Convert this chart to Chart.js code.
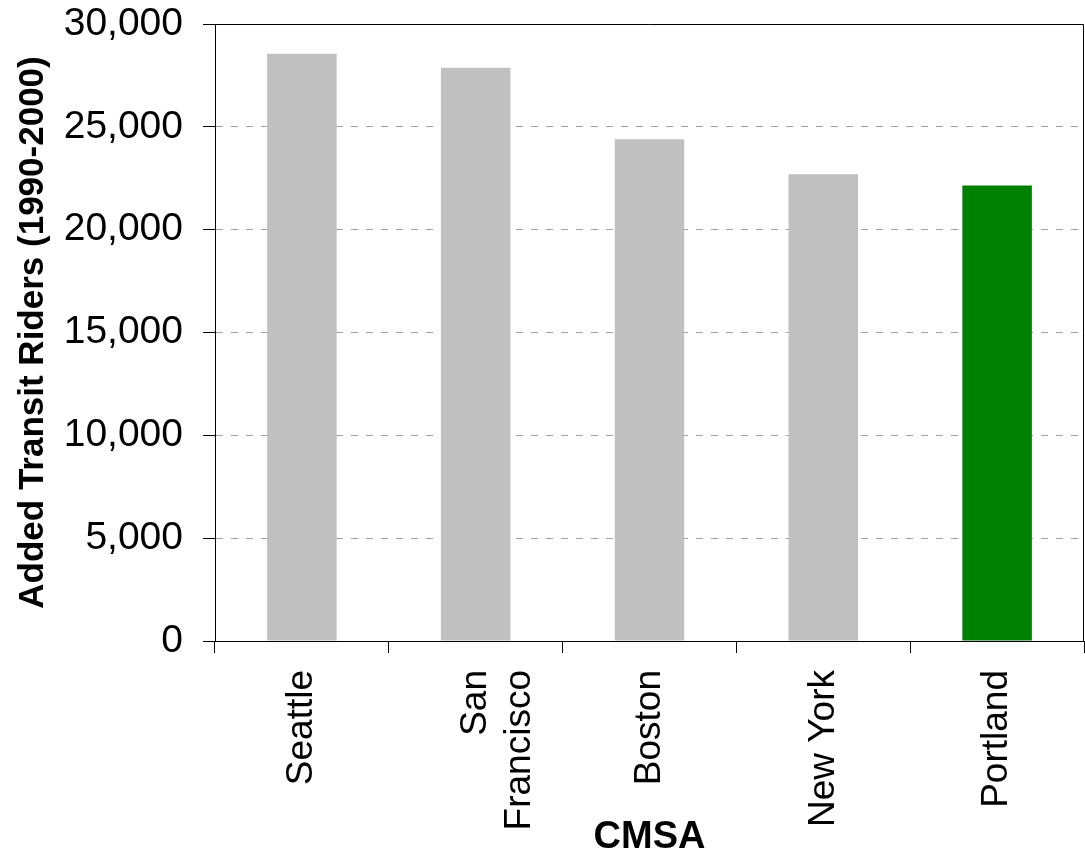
<!DOCTYPE html>
<html>
<head>
<meta charset="utf-8">
<script src="https://cdn.jsdelivr.net/npm/chart.js@4"></script>
<style>
  body { margin: 0; background: #fff; }
  #wrap { width: 1085px; height: 853px; position: relative; }
</style>
</head>
<body>
<div id="wrap"><canvas id="chart"></canvas></div>
<script>
"use strict";
const cities = ['Seattle', ['San', 'Francisco'], 'Boston', 'New York', 'Portland'];
const riders = [28550, 27870, 24400, 22700, 22150];
const yTicks = [0, 5000, 10000, 15000, 20000, 25000, 30000];

const barColors = ['#c0c0c0', '#c0c0c0', '#c0c0c0', '#c0c0c0', '#008000'];
const FONT = "'Liberation Sans', Arial, sans-serif";

// black frame round the plot area (top and right edges)
const frame = {
    id: 'frame',
    afterDraw(chart) {
        const a = chart.chartArea;
        const ctx = chart.ctx;
        ctx.save();
        ctx.strokeStyle = '#000';
        ctx.lineWidth = 1;
        ctx.beginPath();
        ctx.moveTo(a.left, a.top + 0.5);
        ctx.lineTo(a.right - 0.5, a.top + 0.5);
        ctx.lineTo(a.right - 0.5, a.bottom);
        ctx.stroke();
        ctx.restore();
    }
};

new Chart(document.getElementById('chart'), {
    type: 'bar',
    data: {
        labels: cities,
        datasets: [{
            label: 'Added Transit Riders',
            data: riders,
            backgroundColor: barColors,
            borderWidth: 0,
            barPercentage: 0.4,
            categoryPercentage: 1
        }]
    },
    options: {
        responsive: true,
        maintainAspectRatio: false,
        animation: false,
        layout: { padding: { top: 24, right: 1, left: 0, bottom: 0 } },
        plugins: {
            legend: { display: false },
            tooltip: { enabled: false }
        },
        scales: {
            x: {
                afterFit(scale) {
                    scale.height = 212;
                    scale.paddingTop = 0;
                },
                grid: {
                    display: true,
                    drawOnChartArea: false,
                    drawTicks: true,
                    tickLength: 12,
                    color: '#000',
                    offset: true
                },
                border: { color: '#000', width: 1 },
                ticks: {
                    color: '#000',
                    font: { family: FONT, size: 37 },
                    minRotation: 90,
                    maxRotation: 90,
                    autoSkip: false,
                    padding: 17
                },
                title: {
                    display: true,
                    text: 'CMSA',
                    color: '#000',
                    font: { family: FONT, size: 38, weight: 'bold', lineHeight: 1 },
                    padding: { top: 0, bottom: -4 }
                }
            },
            y: {
                afterFit(scale) {
                    scale.width = 215;
                    scale.paddingTop = 0;
                    scale.paddingBottom = 0;
                },
                min: 0,
                max: 30000,
                afterBuildTicks(scale) {
                    scale.ticks = yTicks.map(v => ({ value: v }));
                },
                grid: {
                    color: ctx => (ctx.tick && (ctx.tick.value === 0 || ctx.tick.value === 30000)) ? 'rgba(0,0,0,0)' : '#a0a0a0',
                    tickColor: '#000',
                    tickLength: 12,
                    lineWidth: 1
                },
                border: { color: '#000', width: 1, dash: [7, 8] },
                ticks: {
                    color: '#000',
                    font: { family: FONT, size: 39 },
                    padding: 20,
                    callback: v => v.toLocaleString('en-US')
                },
                title: {
                    display: true,
                    text: 'Added Transit Riders (1990-2000)',
                    color: '#000',
                    font: { family: FONT, size: 35, weight: 'bold', lineHeight: 1.2 },
                    padding: { top: 12, bottom: 0 }
                }
            }
        }
    },
    plugins: [frame]
});
</script>
</body>
</html>
